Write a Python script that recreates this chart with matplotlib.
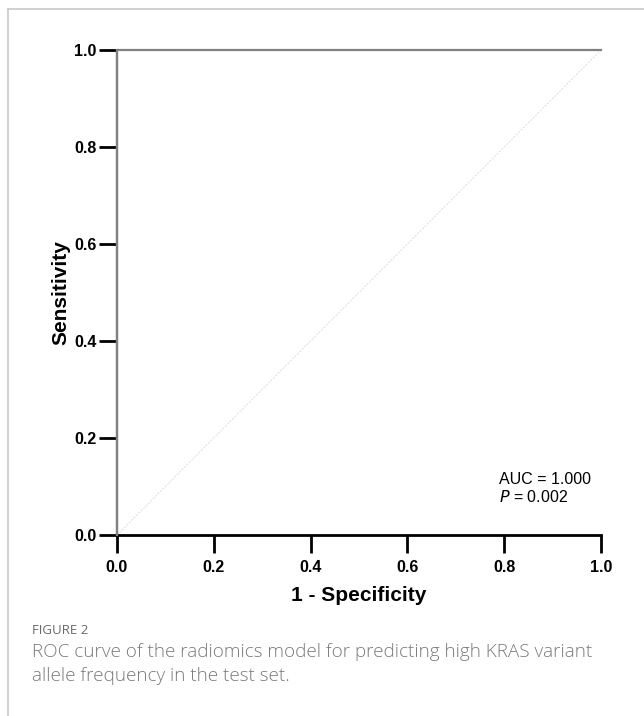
import matplotlib
matplotlib.use("Agg")
import matplotlib.pyplot as plt
from matplotlib.lines import Line2D

# Data
fpr = [0.0, 0.0, 1.0]
tpr = [0.0, 1.0, 1.0]
ref_x = [0.0, 1.0]
ref_y = [0.0, 1.0]
ticks = [0.0, 0.2, 0.4, 0.6, 0.8, 1.0]
tick_labels = ["0.0", "0.2", "0.4", "0.6", "0.8", "1.0"]
auc_text = "AUC = 1.000"
p_text = "= 0.002"

W, H = 644, 716
fig = plt.figure(figsize=(W/100, H/100), dpi=100)
fig.patch.set_facecolor("white")

# frame border lines (gray, left + top)
fig.add_artist(Line2D([8/W, 8/W], [0, 1-9/H], transform=fig.transFigure, color="#c8c8c8", lw=1.2))
fig.add_artist(Line2D([8/W, 1], [1-9/H, 1-9/H], transform=fig.transFigure, color="#c8c8c8", lw=1.2))

ax = fig.add_axes([117/W, 181/H, 484/W, 485/H])
ax.plot(ref_x, ref_y, color="#dcdcdc", lw=0.7, ls=(0, (2, 1.5)), zorder=2)
ax.plot(fpr, tpr, color="#808080", lw=1.6, zorder=3, clip_on=False)

ax.set_xlim(0, 1)
ax.set_ylim(0, 1)
ax.set_xticks(ticks)
ax.set_yticks(ticks)
ax.set_xticklabels(tick_labels, fontfamily="Liberation Sans", fontweight="bold", fontsize=11.5)
ax.set_yticklabels(tick_labels, fontfamily="Liberation Sans", fontweight="bold", fontsize=11.5)
for s in ["top", "right"]:
    ax.spines[s].set_visible(False)
ax.spines["bottom"].set_linewidth(2.0)
ax.spines["left"].set_linewidth(1.6)
ax.spines["left"].set_color("#808080")
ax.tick_params(axis="x", length=13, width=2.0, pad=5, color="black")
ax.tick_params(axis="y", length=13, width=2.0, pad=1.5, color="black")

ax.set_xlabel("1 - Specificity", fontfamily="Liberation Sans", fontweight="bold", fontsize=15, labelpad=8)
ax.set_ylabel("Sensitivity", fontfamily="Liberation Sans", fontweight="bold", fontsize=15, labelpad=3)

ax.text(0.789, 0.115, auc_text, transform=ax.transAxes, fontfamily="Liberation Sans", fontsize=11.5, va="center")
ax.text(0.789, 0.078, "$\\it{P}$ " + p_text, transform=ax.transAxes, fontfamily="Liberation Sans", fontsize=11.5, va="center")

fig.text(32/W, 1-630/H, "FIGURE 2", fontfamily="Open Sans", fontsize=9.5, color="#6a6a6a", va="center", fontweight="medium")
fig.text(32/W, 1-652/H, "ROC curve of the radiomics model for predicting high KRAS variant",
         fontfamily="Open Sans", fontsize=13.6, color="#7a7a7a", va="center", fontweight="light")
fig.text(32/W, 1-676/H, "allele frequency in the test set.",
         fontfamily="Open Sans", fontsize=13.6, color="#7a7a7a", va="center", fontweight="light")

fig.savefig("out.png", dpi=100)
